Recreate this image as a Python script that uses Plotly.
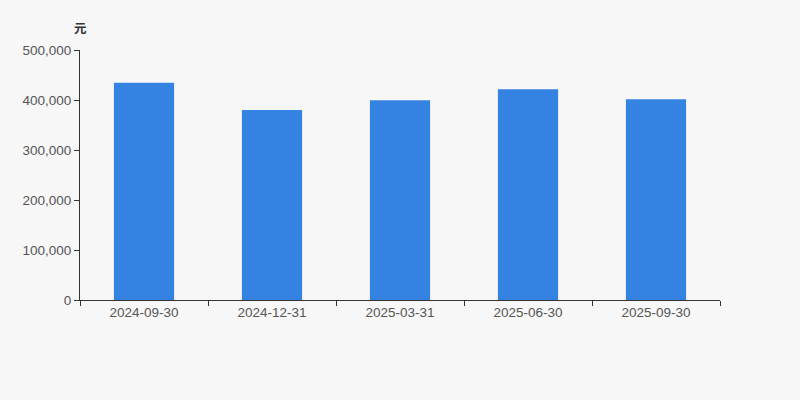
import plotly.graph_objects as go

categories = ["2024-09-30", "2024-12-31", "2025-03-31", "2025-06-30", "2025-09-30"]
values = [434500, 380000, 399300, 421300, 401300]
y_ticks = [0, 100000, 200000, 300000, 400000, 500000]
y_tick_labels = ["0", "100,000", "200,000", "300,000", "400,000", "500,000"]

fig = go.Figure(go.Bar(
    x=categories, y=values,
    marker=dict(color="#3483e3", line=dict(width=0)),
    width=0.47,
    hoverinfo="x+y",
))

fig.update_layout(
    width=800, height=400,
    margin=dict(l=80, r=80, t=50, b=100),
    paper_bgcolor="#f7f7f7", plot_bgcolor="#f7f7f7",
    font=dict(family="Liberation Sans, Arial, sans-serif", size=13.5, color="#555555"),
    showlegend=False,
    xaxis=dict(
        type="category", showline=True, linecolor="#333333", linewidth=1,
        ticks="outside", tickson="boundaries", ticklen=5, tickcolor="#333333",
        showgrid=False, zeroline=False, tickfont=dict(color="#555555", size=13.5),
        range=[-0.5, 4.5],
    ),
    yaxis=dict(
        range=[0, 500000], tickvals=y_ticks, ticktext=y_tick_labels,
        showline=True, linecolor="#333333", linewidth=1,
        ticks="outside", ticklen=5, tickcolor="#333333",
        showgrid=False, zeroline=False, tickfont=dict(color="#555555", size=13.5),
    ),
    annotations=[dict(
        text="<b>元</b>", xref="paper", yref="paper", x=0, y=1.088,
        xanchor="center", yanchor="middle", showarrow=False,
        font=dict(family="Noto Sans CJK SC", size=12.5, color="#333333"),
    )],
)

fig.write_html(
    "out.html",
    config={"displayModeBar": False},
    post_script="document.body.style.margin='0';document.body.style.background='#f7f7f7';",
)
